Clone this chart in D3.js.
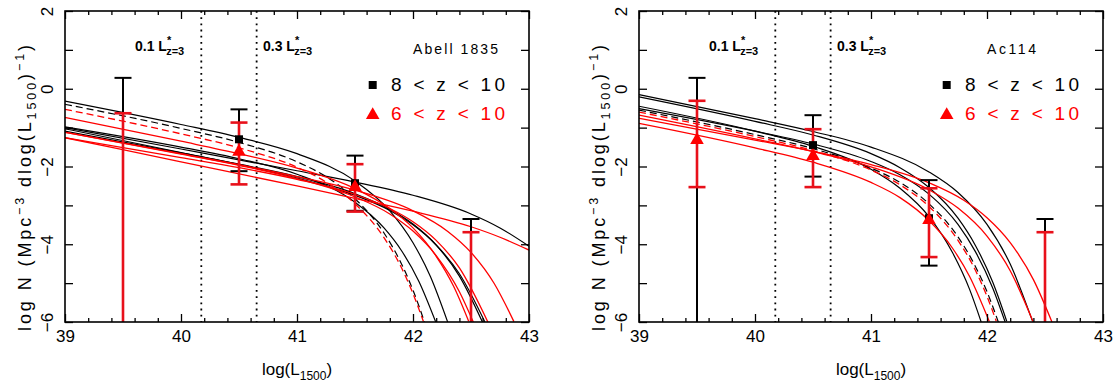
<!DOCTYPE html>
<html><head><meta charset="utf-8">
<script src="https://cdn.jsdelivr.net/npm/d3@7"></script>
<style>
body{margin:0;background:#fff}
svg{display:block}
text{font-family:"Liberation Sans",Arial,Helvetica,sans-serif}
</style></head>
<body><svg id="chart" width="1119" height="385"></svg>
<script>
// ---------------- data ----------------
const xDomain = [39, 43];
const yDomain = [-6, 2];
const xMajorTicks = [39, 40, 41, 42, 43];
const yTickValues = [2, 1, 0, -1, -2, -3, -4, -5, -6];
const lstarMarks = [40.175, 40.652];
const lstarLabels = ["0.1", "0.3"];
const pointX = [39.5, 40.5, 41.5, 42.5];
const legendLabels = ["8 < z < 10", "6 < z < 10"];
const fieldNames = ["Abell 1835", "Ac114"];

// Abell 1835 data points (null = no marker, limit only)
const a1835BlackY  = [null, -1.30, -2.43, null];
const a1835BlackHi = [0.28, -0.53, -1.72, -3.35];
const a1835BlackLo = [-6.5, -2.12, -3.14, -6.5];
const a1835RedY    = [null, -1.62, -2.53, null];
const a1835RedHi   = [-0.63, -0.87, -1.94, -3.69];
const a1835RedLo   = [-6.5, -2.46, -3.16, -6.5];

// Ac114 data points
const ac114BlackY  = [null, -1.45, -3.33, null];
const ac114BlackHi = [0.28, -0.68, -2.35, -3.35];
const ac114BlackLo = [-6.5, -2.26, -4.55, -6.5];
const ac114RedY    = [-1.32, -1.73, -3.38, null];
const ac114RedHi   = [-0.31, -1.04, -2.56, -3.69];
const ac114RedLo   = [-2.53, -2.53, -4.33, -6.5];

// Luminosity-function curves: [logL, logN]
const a1835BlackDashed = [[39,-0.40],[40,-1.02],[40.5,-1.38],[41,-1.88],[41.25,-2.26],[41.5,-2.83],[41.75,-3.71],[41.9,-4.50],[42.0,-5.18],[42.1,-6.01]];
const a1835RedDashed = [[39,-0.53],[40,-1.16],[40.5,-1.52],[41,-2.02],[41.25,-2.40],[41.5,-2.96],[41.75,-3.83],[41.9,-4.60],[42.0,-5.27],[42.09,-5.99]];
const a1835BlackSolid = [
  [[39,-0.32],[40,-0.92],[40.5,-1.25],[41,-1.67],[41.5,-2.37],[41.8,-3.14],[42.0,-3.96],[42.15,-4.83],[42.3,-6.01]],
  [[39,-0.98],[40,-1.50],[40.5,-1.80],[41,-2.20],[41.5,-2.92],[41.75,-3.58],[41.9,-4.16],[42.05,-4.95],[42.2,-6.03]],
  [[39,-1.09],[40,-1.65],[40.5,-1.94],[41,-2.26],[41.5,-2.70],[41.8,-3.10],[42.0,-3.48],[42.2,-4.02],[42.4,-4.82],[42.6,-6.01]],
  [[39,-1.03],[40,-1.64],[40.5,-1.95],[41,-2.30],[41.5,-2.74],[41.8,-3.13],[42.0,-3.50],[42.2,-4.02],[42.4,-4.76],[42.62,-6.0]],
  [[39,-1.00],[40,-1.55],[41,-2.11],[41.5,-2.40],[42,-2.74],[42.5,-3.22],[42.75,-3.58],[43,-4.05]]
];
const a1835RedSolid = [
  [[39,-0.74],[40,-1.35],[40.5,-1.67],[41,-2.04],[41.5,-2.57],[41.8,-3.08],[42.0,-3.58],[42.2,-4.31],[42.35,-5.08],[42.48,-5.98]],
  [[39,-1.12],[40,-1.68],[40.5,-1.97],[41,-2.31],[41.5,-2.78],[41.8,-3.22],[42.0,-3.66],[42.2,-4.29],[42.4,-5.22],[42.52,-6.0]],
  [[39,-1.26],[40,-1.77],[40.5,-2.03],[41,-2.33],[41.5,-2.72],[41.8,-3.08],[42.0,-3.42],[42.2,-3.90],[42.4,-4.61],[42.65,-6.03]],
  [[39,-1.12],[40,-1.67],[41,-2.26],[41.5,-2.61],[42,-3.14],[42.3,-3.67],[42.5,-4.21],[42.7,-5.01],[42.87,-5.99]],
  [[39,-1.26],[40,-1.88],[41,-2.50],[41.5,-2.82],[42,-3.15],[42.5,-3.55],[42.75,-3.82],[43,-4.15]]
];

const ac114BlackDashed = [[39,-0.55],[40,-1.18],[40.5,-1.54],[41,-2.04],[41.25,-2.41],[41.5,-2.96],[41.75,-3.81],[41.9,-4.57],[42.0,-5.22],[42.1,-6.02]];
const ac114RedDashed = [[39,-0.60],[40,-1.23],[40.5,-1.59],[41,-2.09],[41.25,-2.47],[41.5,-3.03],[41.75,-3.90],[41.9,-4.67],[42.0,-5.34],[42.08,-5.98]];
const ac114BlackSolid = [
  [[39,-0.45],[40,-1.09],[40.5,-1.48],[41,-2.07],[41.25,-2.56],[41.5,-3.29],[41.7,-4.20],[41.85,-5.16],[41.95,-6.0]],
  [[39,-0.15],[40,-0.77],[40.5,-1.10],[41,-1.50],[41.5,-2.14],[41.75,-2.67],[42.0,-3.49],[42.2,-4.51],[42.39,-5.96]],
  [[39,-0.21],[40,-0.84],[40.5,-1.19],[41,-1.67],[41.25,-2.03],[41.5,-2.54],[41.75,-3.33],[41.9,-4.03],[42.05,-4.98],[42.17,-5.98]],
  [[39,-0.51],[40,-1.09],[40.5,-1.42],[41,-1.87],[41.25,-2.21],[41.5,-2.71],[41.75,-3.49],[41.9,-4.19],[42.05,-5.13],[42.16,-6.03]]
];
const ac114RedSolid = [
  [[39,-0.89],[40,-1.52],[40.5,-1.89],[41,-2.41],[41.25,-2.80],[41.5,-3.39],[41.7,-4.09],[41.85,-4.83],[42.02,-5.99]],
  [[39,-0.68],[40,-1.29],[40.5,-1.62],[41,-2.01],[41.5,-2.60],[41.75,-3.07],[42.0,-3.79],[42.2,-4.68],[42.4,-6.01]],
  [[39,-0.76],[40,-1.32],[40.5,-1.61],[41,-1.95],[41.5,-2.42],[41.8,-2.87],[42.0,-3.32],[42.2,-3.96],[42.4,-4.91],[42.56,-6.0]]
];

// ---------------- drawing ----------------
const svg = d3.select("#chart");
const PW = 464, TOP = 11, BOT = 322;
const RED = "#ff0000", BARRED = "#e8101a";

function drawPanel(idx, x0, bD, rD, bS, rS, bY, bHi, bLo, rY, rHi, rLo) {
  const g = svg.append("g");
  const x = d3.scaleLinear().domain(xDomain).range([x0, x0 + PW]);
  const y = d3.scaleLinear().domain(yDomain).range([BOT, TOP]);
  const clipId = "clip" + idx;
  svg.append("clipPath").attr("id", clipId).append("rect")
    .attr("x", x0).attr("y", TOP).attr("width", PW).attr("height", BOT - TOP);
  const inner = g.append("g").attr("clip-path", `url(#${clipId})`);

  // dotted L* markers
  inner.selectAll("line.lstar").data(lstarMarks).join("line")
    .attr("x1", d => x(d)).attr("x2", d => x(d))
    .attr("y1", y(yDomain[1])).attr("y2", y(yDomain[0]))
    .attr("stroke", "#000").attr("stroke-width", 1.8).attr("stroke-dasharray", "1.8,4.4");

  const line = d3.line().x(d => x(d[0])).y(d => y(d[1])).curve(d3.curveMonotoneX);
  inner.selectAll("path.bs").data(bS).join("path")
    .attr("d", line).attr("fill", "none").attr("stroke", "#000").attr("stroke-width", 1.2);
  inner.append("path").datum(bD).attr("d", line).attr("fill", "none")
    .attr("stroke", "#000").attr("stroke-width", 1.2).attr("stroke-dasharray", "7,4");
  inner.selectAll("path.rs").data(rS).join("path")
    .attr("d", line).attr("fill", "none").attr("stroke", RED).attr("stroke-width", 1.3);
  inner.append("path").datum(rD).attr("d", line).attr("fill", "none")
    .attr("stroke", RED).attr("stroke-width", 1.3).attr("stroke-dasharray", "7,4");

  // error bars
  const cap = 8.5;
  function bars(hi, lo, color, w) {
    const gb = inner.append("g").attr("stroke", color).attr("stroke-width", w);
    pointX.forEach((px, i) => {
      gb.append("line").attr("x1", x(px)).attr("x2", x(px)).attr("y1", y(hi[i])).attr("y2", y(lo[i]));
      gb.append("line").attr("x1", x(px) - cap).attr("x2", x(px) + cap).attr("y1", y(hi[i])).attr("y2", y(hi[i]));
      if (lo[i] > yDomain[0]) gb.append("line").attr("x1", x(px) - cap).attr("x2", x(px) + cap).attr("y1", y(lo[i])).attr("y2", y(lo[i]));
    });
  }
  bars(bHi, bLo, "#000", 2);
  bars(rHi, rLo, BARRED, 2.6);
  const sq = d3.symbol().type(d3.symbolSquare).size(64);
  const tri = d3.symbol().type(d3.symbolTriangle).size(80);
  pointX.forEach((px, i) => {
    if (bY[i] !== null) inner.append("path").attr("d", sq).attr("transform", `translate(${x(px)},${y(bY[i])})`).attr("fill", "#000");
  });
  pointX.forEach((px, i) => {
    if (rY[i] !== null) inner.append("path").attr("d", tri).attr("transform", `translate(${x(px)},${y(rY[i])})`).attr("fill", RED);
  });

  // axes
  const xMinor = d3.range(39, 43.0001, 0.2).filter(v => Math.abs(v - Math.round(v)) > 1e-6);
  function styleAxis(sel) {
    sel.select(".domain").remove();
    sel.selectAll("line").attr("stroke", "#000").attr("stroke-width", 1.3);
    sel.attr("font-size", 17).attr("font-family", '"Liberation Sans",Arial,sans-serif');
    sel.selectAll("text").attr("fill", "#000");
  }
  g.append("g").attr("transform", `translate(0,${BOT})`)
    .call(d3.axisBottom(x).tickValues(xMajorTicks).tickSize(-8).tickPadding(8).tickFormat(d3.format("d"))).call(styleAxis);
  g.append("g").attr("transform", `translate(0,${BOT})`)
    .call(d3.axisBottom(x).tickValues(xMinor).tickSize(-4).tickFormat("")).call(styleAxis);
  g.append("g").attr("transform", `translate(0,${TOP})`)
    .call(d3.axisTop(x).tickValues(xMajorTicks).tickSize(-8).tickFormat("")).call(styleAxis);
  g.append("g").attr("transform", `translate(0,${TOP})`)
    .call(d3.axisTop(x).tickValues(xMinor).tickSize(-4).tickFormat("")).call(styleAxis);
  const yl = g.append("g").attr("transform", `translate(${x0},0)`)
    .call(d3.axisLeft(y).tickValues(yTickValues).tickSize(-8)
      .tickFormat(d => (d % 2 === 0 ? d3.format("d")(d) : ""))).call(styleAxis);
  yl.selectAll("text").attr("transform", "rotate(-90)").attr("x", 0).attr("y", -12).attr("dy", 0)
    .attr("text-anchor", "middle");
  g.append("g").attr("transform", `translate(${x0 + PW},0)`)
    .call(d3.axisRight(y).tickValues(yTickValues).tickSize(-8).tickFormat("")).call(styleAxis);

  g.append("rect").attr("x", x0).attr("y", TOP).attr("width", PW).attr("height", BOT - TOP)
    .attr("fill", "none").attr("stroke", "#000").attr("stroke-width", 1.6);

  // axis titles
  const xt = g.append("text").attr("x", x0 + PW / 2).attr("y", 375).attr("text-anchor", "middle")
    .attr("font-size", 17).attr("fill", "#000");
  xt.append("tspan").text("log(L");
  xt.append("tspan").attr("font-size", 12).attr("dy", 5).text("1500");
  xt.append("tspan").attr("dy", -5).text(")");

  const yt = g.append("text").attr("transform", `translate(${x0 - 34},188) rotate(-90)`)
    .attr("text-anchor", "middle").attr("font-size", 18).attr("fill", "#000")
    .attr("textLength", 286).attr("lengthAdjust", "spacing");
  yt.append("tspan").text("log N  (Mpc");
  yt.append("tspan").attr("font-size", 12.5).attr("dy", -7).text("\u22123");
  yt.append("tspan").attr("dy", 7).text("  dlog(L");
  yt.append("tspan").attr("font-size", 12.5).attr("dy", 5).text("1500");
  yt.append("tspan").attr("dy", -5).text(")");
  yt.append("tspan").attr("font-size", 12.5).attr("dy", -7).text("\u22121");
  yt.append("tspan").attr("dy", 7).text(")");

  // L* annotations
  const annX = [x0 + 70, x0 + 198];
  lstarLabels.forEach((lab, i) => {
    const t = g.append("text").attr("x", annX[i]).attr("y", 51).attr("font-size", 14)
      .attr("font-weight", "bold").attr("fill", "#000");
    t.append("tspan").text(lab + "  L");
    t.append("tspan").attr("font-size", 11).attr("dy", -7).text("*");
    t.append("tspan").attr("font-size", 11).attr("dx", -5).attr("dy", 11).text("z=3");
  });

  g.append("text").attr("x", x0 + 348).attr("y", 54).attr("font-size", 14).attr("fill", "#000")
    .attr("textLength", idx === 0 ? 85 : 49).attr("lengthAdjust", "spacing").text(fieldNames[idx]);

  // legend
  g.append("path").attr("d", sq).attr("transform", `translate(${x0 + 307.7},85)`).attr("fill", "#000");
  g.append("path").attr("d", tri).attr("transform", `translate(${x0 + 307.7},115)`).attr("fill", RED);
  g.append("text").attr("x", x0 + 326).attr("y", 91).attr("font-size", 19).attr("fill", "#000")
    .attr("textLength", 114).attr("lengthAdjust", "spacing").text(legendLabels[0]);
  g.append("text").attr("x", x0 + 326).attr("y", 120).attr("font-size", 19).attr("fill", RED)
    .attr("textLength", 114).attr("lengthAdjust", "spacing").text(legendLabels[1]);
}

drawPanel(0, 65, a1835BlackDashed, a1835RedDashed, a1835BlackSolid, a1835RedSolid,
  a1835BlackY, a1835BlackHi, a1835BlackLo, a1835RedY, a1835RedHi, a1835RedLo);
drawPanel(1, 639, ac114BlackDashed, ac114RedDashed, ac114BlackSolid, ac114RedSolid,
  ac114BlackY, ac114BlackHi, ac114BlackLo, ac114RedY, ac114RedHi, ac114RedLo);
</script></body></html>
